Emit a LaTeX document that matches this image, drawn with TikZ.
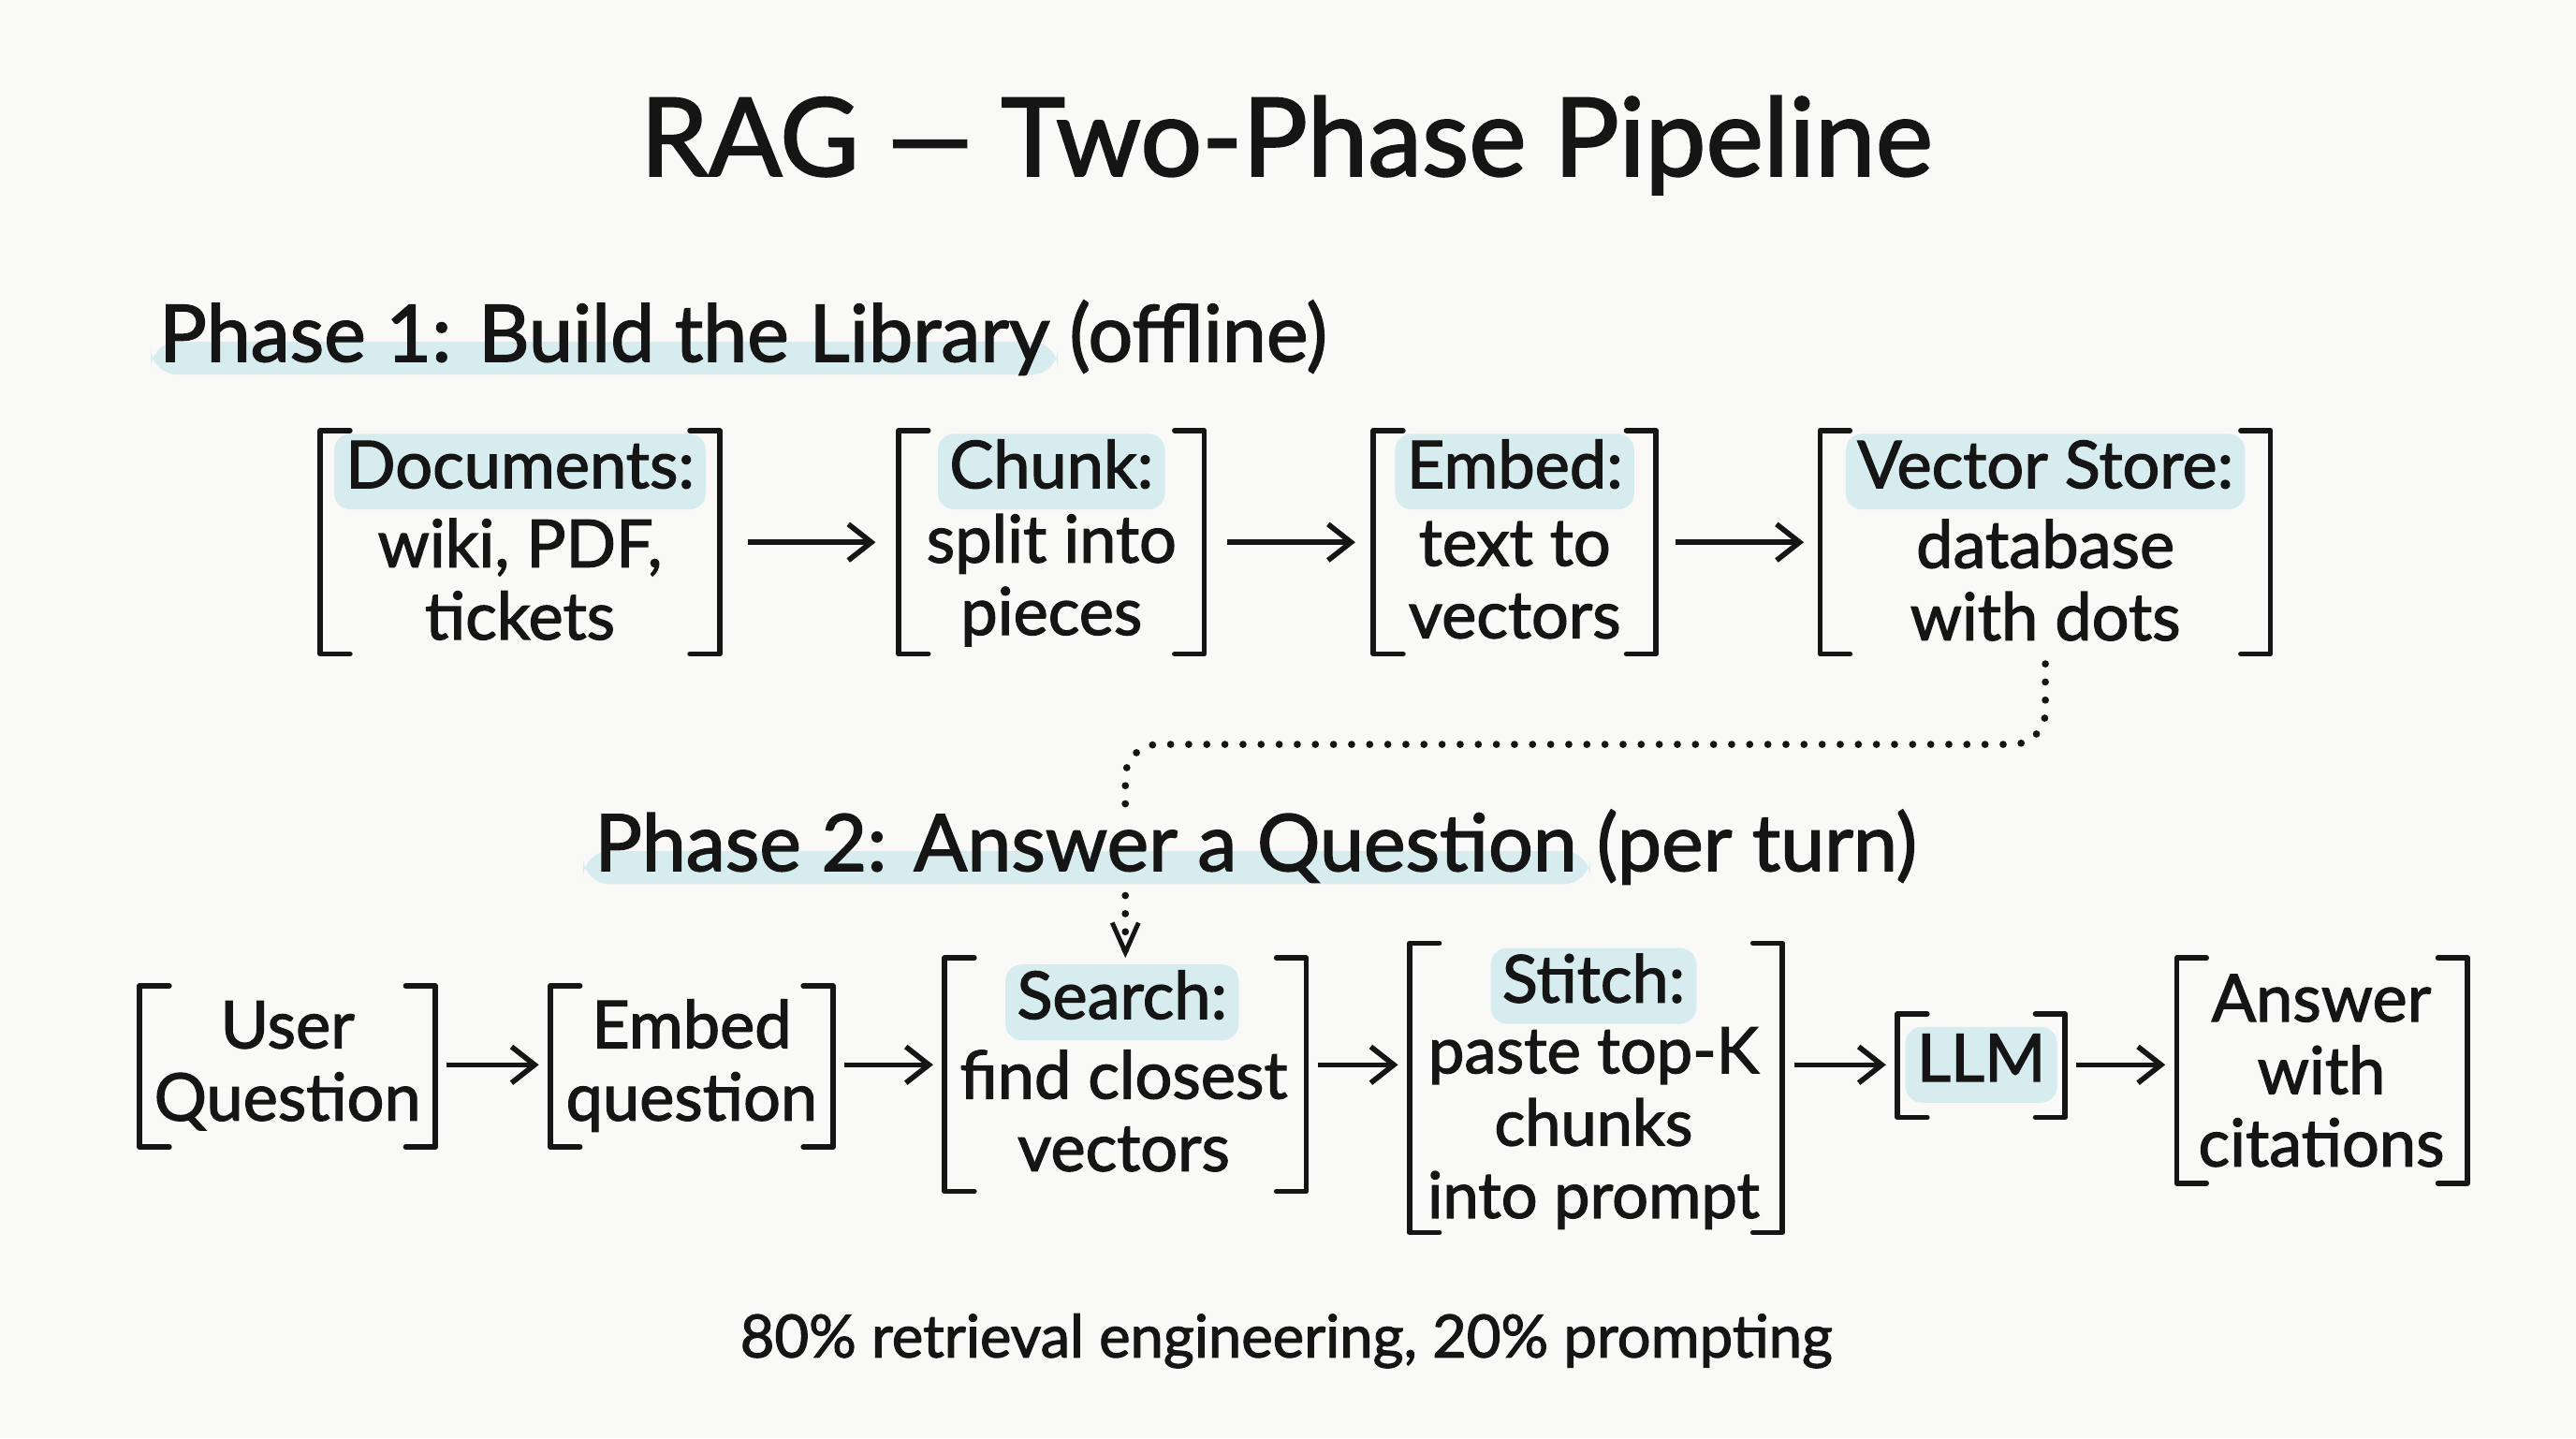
\documentclass[tikz,border=0pt]{standalone}
\usepackage{fontspec}
\setmainfont{Lato}[RawFeature={embolden=1.8}]
\usetikzlibrary{arrows.meta,calc}
\definecolor{bgc}{HTML}{F9F9F7}
\definecolor{hlc}{HTML}{D6ECEE}
\definecolor{ink}{HTML}{151515}
\def\dpx{0.01755cm}
\pgfdeclarelayer{back}
\pgfdeclarelayer{mid}
\pgfsetlayers{back,mid,main}
\newcommand\frm[1]{%
  \draw[brk] ([xshift=9pt]#1.north west) -- (#1.north west) -- (#1.south west) -- ([xshift=9pt]#1.south west);
  \draw[brk] ([xshift=-9pt]#1.north east) -- (#1.north east) -- (#1.south east) -- ([xshift=-9pt]#1.south east);}
\begin{document}
\begin{tikzpicture}[x=0.01755cm, y=-0.01755cm,
  every node/.style={text=ink, inner sep=0pt, outer sep=0pt},
  txt/.style={font=\fontsize{20}{22}\selectfont, align=center},
  hl/.style={txt, fill=hlc, rounded corners=5pt, inner xsep=3.5pt, text height=15pt, text depth=5pt, inner ysep=1.5pt},
  head/.style={font=\fontsize{24}{28}\selectfont, anchor=base west},
  brk/.style={draw=ink, line width=1.6pt, line cap=round, line join=round},
  arr/.style={draw=ink, line width=1.6pt, -{Straight Barb[length=7pt,width=11pt]}},
  dots/.style={draw=ink, line width=2.2pt, line cap=round, dash pattern=on 0pt off 5.5pt},
]
\begin{pgfonlayer}{back}
  \fill[bgc] (0,0) rectangle (1568,875.2);
\end{pgfonlayer}
\useasboundingbox (0,0) rectangle (1568,875.2);

% title
\node[anchor=base, font=\fontsize{33}{40}\selectfont] (title) at (783,107) {RAG — Two-Phase Pipeline};

% phase 1 heading
\node[head] (p1a) at (97,220) {Phase 1: Build the Library};
\node[head] (p1b) at ([xshift=6pt]p1a.base east) {(offline)};
\begin{pgfonlayer}{mid}
  \fill[hlc, rounded corners=8pt] ($(p1a.base west)+(-5,-12)$) rectangle ($(p1a.base east)+(5,8)$);
\end{pgfonlayer}

% phase 1 frames
\node[minimum width=243*\dpx, minimum height=136*\dpx] (doc) at (316.5,330) {};
\node[minimum width=186*\dpx, minimum height=136*\dpx] (chunk) at (640,330) {};
\node[minimum width=172*\dpx, minimum height=136*\dpx] (embed) at (922,330) {};
\node[minimum width=274*\dpx, minimum height=136*\dpx] (vs) at (1245,330) {};
\frm{doc}\frm{chunk}\frm{embed}\frm{vs}

\node[hl] (docH) at (316.5,287) {Documents:};
\node[txt] (docB) at (316.5,352.5) {wiki, PDF,\\tickets};
\node[hl] (chunkH) at (640,287) {Chunk:};
\node[txt] (chunkB) at (640,353) {split into\\pieces};
\node[hl] (embedH) at (922,287) {Embed:};
\node[txt] (embedB) at (922,353) {text to\\vectors};
\node[hl] (vsH) at (1245,287) {Vector Store:};
\node[txt] (vsB) at (1245,353) {database\\with dots};

\draw[arr, shorten <=8.5pt, shorten >=7pt] (doc.east) -- (chunk.west);
\draw[arr, shorten <=7pt, shorten >=5.5pt] (chunk.east) -- (embed.west);
\draw[arr, shorten <=6pt, shorten >=5pt] (embed.east) -- (vs.west);

% phase 2 heading
\node[head] (p2a) at (362,530) {Phase 2: Answer a Question};
\node[head] (p2b) at ([xshift=6pt]p2a.base east) {(per turn)};
\begin{pgfonlayer}{mid}
  \fill[hlc, rounded corners=8pt] ($(p2a.base west)+(-7,-12)$) rectangle ($(p2a.base east)+(8,8)$);
\end{pgfonlayer}

% phase 2 frames
\node[minimum width=180*\dpx, minimum height=98*\dpx] (user) at (175,649) {};
\node[minimum width=172*\dpx, minimum height=98*\dpx] (embq) at (421,649) {};
\node[minimum width=220*\dpx, minimum height=142*\dpx] (search) at (685,654) {};
\node[minimum width=227*\dpx, minimum height=176*\dpx] (stitch) at (971.5,662) {};
\node[minimum width=102*\dpx, minimum height=63*\dpx] (llm) at (1206,648.5) {};
\node[minimum width=177*\dpx, minimum height=137*\dpx] (ans) at (1413.5,651.5) {};
\frm{user}\frm{embq}\frm{search}\frm{stitch}\frm{llm}\frm{ans}

\node[txt] (userB) at (175,648.5) {User\\Question};
\node[txt] (embqB) at (421,648.5) {Embed\\question};
\node[hl] (searchH) at (683,610) {Search:};
\node[txt] (searchB) at (684,676) {find closest\\vectors};
\node[hl] (stitchH) at (970,600) {Stitch:};
\node[txt, font=\fontsize{19.5}{22}\selectfont] (stitchB) at (970,686.5) {paste top-K\\chunks\\into prompt};
\node[hl] (llmH) at (1206,648) {LLM};
\node[txt] (ansB) at (1413,651.5) {Answer\\with\\citations};

\coordinate (r2) at (0,648);
\draw[arr, shorten <=3.5pt, shorten >=3.5pt] (user.east |- r2) -- (embq.west |- r2);
\draw[arr, shorten <=3.5pt, shorten >=3.5pt] (embq.east |- r2) -- (search.west |- r2);
\draw[arr, shorten <=3.5pt, shorten >=3.5pt] (search.east |- r2) -- (stitch.west |- r2);
\draw[arr, shorten <=3.5pt, shorten >=3.5pt] (stitch.east |- r2) -- (llm.west |- r2);
\draw[arr, shorten <=3.5pt, shorten >=3.5pt] (llm.east |- r2) -- (ans.west |- r2);

% dotted connector
\coordinate (c1) at (1245,453);
\coordinate (c2) at (685,453);
\coordinate (c3) at (685,490);
\coordinate (c4) at (685,545);
\draw[dots, rounded corners=10pt] ([yshift=-3pt]vs.south) -- (c1) -- (c2) -- (c3);
\draw[dots, -{Straight Barb[length=9pt,width=8pt,line width=1.4pt]}] (c4) -- (search.north);

% footer
\node[anchor=base, font=\fontsize{18}{22}\selectfont] (foot) at (783,826) {80\% retrieval engineering, 20\% prompting};
\end{tikzpicture}
\end{document}
